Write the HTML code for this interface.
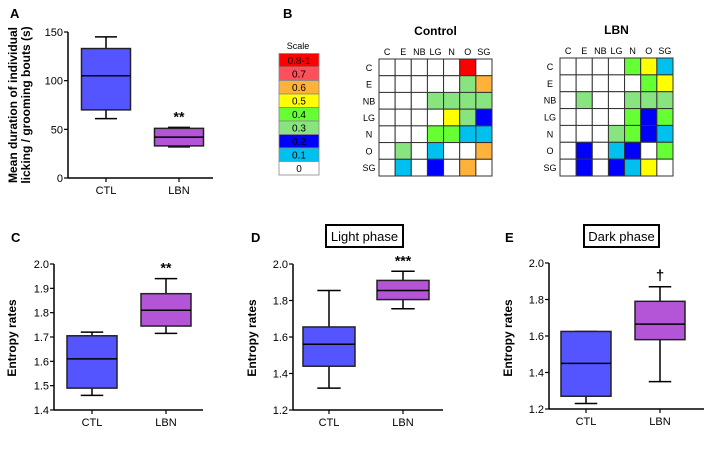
<!DOCTYPE html>
<html><head><meta charset="utf-8"><style>
body{margin:0;background:#fff;}
svg text{font-family:"Liberation Sans",Arial,sans-serif;}
</style></head><body>
<svg id="fig" width="704" height="455" xmlns="http://www.w3.org/2000/svg"></svg>
<script>
// Panel A data
const aCats = ["CTL","LBN"];
const aStats = [[61,70,105,133,145],[32,33,42,51,52]];
const aTicks = [0,50,100,150];
// Panel C
const cStats = [[1.46,1.49,1.61,1.705,1.72],[1.715,1.745,1.81,1.878,1.94]];
const cTicks = [1.4,1.5,1.6,1.7,1.8,1.9,2.0];
// Panel D
const dStats = [[1.32,1.44,1.56,1.655,1.855],[1.755,1.805,1.855,1.91,1.96]];
const dTicks = [1.2,1.4,1.6,1.8,2.0];
// Panel E
const eStats = [[1.23,1.27,1.45,1.625,1.625],[1.35,1.58,1.665,1.79,1.87]];
const eTicks = [1.2,1.4,1.6,1.8,2.0];
// Heatmaps
const hmLabels = ["C","E","NB","LG","N","O","SG"];
const scaleLabels = ["0.8-1","0.7","0.6","0.5","0.4","0.3","0.2","0.1","0"];
const scaleColors = ["#ff0000","#ff4f5a","#ffb23a","#ffff00","#66ff33","#88e47f","#0000ff","#00c0f0","#ffffff"];
// values: 0=white,0.1 cyan,0.2 blue,0.3 light green,0.4 green,0.5 yellow,0.6 orange,0.8 red
const controlVals = [
 [0,0,0,0,0,0.8,0],
 [0,0,0,0,0,0.3,0.6],
 [0,0,0,0.3,0.3,0.3,0.3],
 [0,0,0,0,0.5,0.3,0.2],
 [0,0,0,0.4,0.4,0.1,0.1],
 [0,0.3,0,0.1,0,0,0.6],
 [0,0.1,0,0.2,0,0.6,0]];
const lbnVals = [
 [0,0,0,0,0.4,0.5,0.1],
 [0,0,0,0,0,0.4,0.5],
 [0,0.3,0,0,0.3,0.3,0.3],
 [0,0,0,0,0.4,0.2,0.4],
 [0,0,0,0.3,0.4,0.2,0.1],
 [0,0.2,0,0.1,0.2,0,0.4],
 [0,0.2,0,0.2,0.1,0.5,0]];

const NS="http://www.w3.org/2000/svg";
const svg=document.getElementById('fig');
function mk(tag,attrs,parent){const e=document.createElementNS(NS,tag);for(const k in attrs)e.setAttribute(k,attrs[k]);(parent||svg).appendChild(e);return e;}
function txt(x,y,s,size,opts,parent){const t=mk('text',Object.assign({x:x,y:y,'font-size':size,'text-anchor':'middle',fill:'#000'},opts||{}),parent);t.textContent=s;return t;}
function colorOf(v){if(v>=0.8)return scaleColors[0];if(v>=0.7)return scaleColors[1];if(v>=0.6)return scaleColors[2];if(v>=0.5)return scaleColors[3];if(v>=0.4)return scaleColors[4];if(v>=0.3)return scaleColors[5];if(v>=0.2)return scaleColors[6];if(v>=0.1)return scaleColors[7];return scaleColors[8];}

function boxPanel(o){
  const g=mk('g',{});
  
  
  const y=v=>o.y0+(v-o.vmin)/(o.vmax-o.vmin)*(o.y1-o.y0);
  const ya=mk('line',{x1:o.ax,y1:o.y0,x2:o.ax,y2:o.y1,stroke:'#000','stroke-width':1.5},g);
  
  
  const xa=mk('line',{x1:o.ax,y1:o.y0,x2:o.xend,y2:o.y0,stroke:'#000','stroke-width':1.5},g);
  
  
  o.ticks.forEach(t=>{
    mk('line',{x1:o.ax-4,y1:y(t),x2:o.ax,y2:y(t),stroke:'#000','stroke-width':1.2},g);
    const tl=txt(o.ax-5,y(t)+4,o.fmt(t),11,{'text-anchor':'end'},g);
    
    
  });
  const fills=['#5555ff','#b455d8'];
  o.stats.forEach((s,i)=>{
    const cx=o.cx[i], hw=o.hw;
    mk('line',{x1:cx,y1:o.y0,x2:cx,y2:o.y0+4,stroke:'#000','stroke-width':1.2},g);
    const xl=txt(cx,o.y0+16,aCats[i],11,{},g);
    
    
    const bg=mk('g',{},g);
    
    
    mk('line',{x1:cx,y1:y(s[0]),x2:cx,y2:y(s[4]),stroke:'#000','stroke-width':1.5},bg);
    mk('line',{x1:cx-hw*0.45,y1:y(s[0]),x2:cx+hw*0.45,y2:y(s[0]),stroke:'#000','stroke-width':1.5},bg);
    mk('line',{x1:cx-hw*0.45,y1:y(s[4]),x2:cx+hw*0.45,y2:y(s[4]),stroke:'#000','stroke-width':1.5},bg);
    mk('rect',{x:cx-hw,y:y(s[3]),width:2*hw,height:y(s[1])-y(s[3]),fill:fills[i],stroke:'#222','stroke-width':1.5},bg);
    mk('line',{x1:cx-hw,y1:y(s[2]),x2:cx+hw,y2:y(s[2]),stroke:'#000','stroke-width':1.5},bg);
  });
  if(o.sig){const st=txt(o.cx[1],y(o.stats[1][4])-6,o.sig,o.sigSize||14,{'font-weight':'bold'},g);
    
    }
  o.title.forEach((line,i)=>{
    const t=txt(0,0,line,12,{'font-weight':'bold',transform:`translate(${o.tx+i*13},${o.ty}) rotate(-90)`},g);
    
    
  });
}

// panel letters
[["A",10,18],["B",283,18],["C",11,242],["D",251,242],["E",505,242]].forEach(p=>{
  const t=txt(p[1],p[2],p[0],13,{'font-weight':'bold','text-anchor':'start'});
  
  
});

boxPanel({name:'panel-a',ax:68,y0:178,y1:32,vmin:0,vmax:150,xend:213,ticks:aTicks,fmt:t=>String(t),stats:aStats,cx:[106,179],hw:24.5,sig:'**',title:['Mean duration of individual','licking / grooming bouts (s)'],tx:17,ty:105});
boxPanel({name:'panel-c',ax:54,y0:410,y1:264,vmin:1.4,vmax:2.0,xend:203,ticks:cTicks,fmt:t=>t.toFixed(1),stats:cStats,cx:[92,166],hw:25,sig:'**',title:['Entropy rates'],tx:16,ty:338});
boxPanel({name:'panel-d',ax:293,y0:410,y1:264,vmin:1.2,vmax:2.0,xend:443,ticks:dTicks,fmt:t=>t.toFixed(1),stats:dStats,cx:[329,403],hw:26,sig:'***',title:['Entropy rates'],tx:256,ty:338});
boxPanel({name:'panel-e',ax:549,y0:409,y1:263,vmin:1.2,vmax:2.0,xend:704,ticks:eTicks,fmt:t=>t.toFixed(1),stats:eStats,cx:[586,660],hw:25,sig:'†',sigSize:15,title:['Entropy rates'],tx:512,ty:338});

// phase boxes
[["Light phase",326,403,"light-phase-label"],["Dark phase",584,659,"dark-phase-label"]].forEach(p=>{
  const g=mk('g',{});
  
  
  mk('rect',{x:p[1],y:225,width:p[2]-p[1],height:22,fill:'#fff',stroke:'#000','stroke-width':2},g);
  txt((p[1]+p[2])/2,241,p[0],13,{},g);
});

// scale legend
const sg=mk('g',{});


txt(298,49,'Scale',9,{},sg);
scaleLabels.forEach((l,i)=>{
  const r=mk('rect',{x:279,y:53.5+i*13.5,width:40,height:13.5,fill:scaleColors[i],stroke:'#888','stroke-width':0.8},sg);
  
  
  txt(299,64+i*13.5,l,10,{},sg);
});

function heatmap(name,title,vals,x0,y0,w,h){
  const g=mk('g',{});
  
  
  const cw=w/7,ch=h/7;
  const tt=txt(x0+w/2,y0-24,title,12,{'font-weight':'bold'},g);
  
  
  hmLabels.forEach((l,i)=>{
    txt(x0+cw*(i+0.5),y0-4,l,9,{},g);
    txt(x0-10,y0+ch*(i+0.5)+3.5,l,9,{},g);
  });
  vals.forEach((row,r)=>row.forEach((v,c)=>{
    const cell=mk('rect',{x:x0+c*cw,y:y0+r*ch,width:cw,height:ch,fill:colorOf(v),stroke:'#333','stroke-width':1},g);
    
    
  }));
}
heatmap('control-heatmap','Control',controlVals,379,59,113,117);
heatmap('lbn-heatmap','LBN',lbnVals,560,58,113,118);
</script>
</body></html>
